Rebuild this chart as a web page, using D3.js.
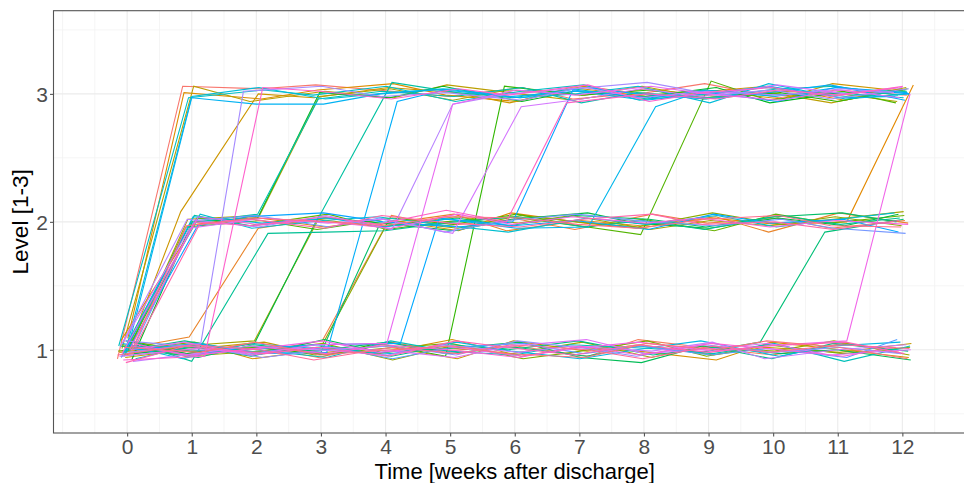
<!DOCTYPE html>
<html>
<head>
<meta charset="utf-8">
<script src="https://cdn.jsdelivr.net/npm/d3@7"></script>
<style>
    body { margin: 0; background: #fff; }
    svg { display: block; font-family: "Liberation Sans", Arial, sans-serif; }
</style>
</head>
<body>
<div id="chart"></div>
<script>
// weeks after discharge, one point per subject and week
var weeks = [0, 1, 2, 3, 4, 5, 6, 7, 8, 9, 10, 11, 12];
var xMinor = [-1, -0.5, 0.5, 1.5, 2.5, 3.5, 4.5, 5.5, 6.5, 7.5, 8.5, 9.5, 10.5, 11.5, 12.5, 13];
var levelTicks = [1, 2, 3];
var levelMinor = [0.5, 1.5, 2.5, 3.5];

// jittered level of every subject at every week
var subjectLevels = [
    [0.93, 3.06, 3.04, 3.07, 3.02, 2.98, 3.05, 2.96, 3.01, 3.08, 2.97, 3.03, 2.99],
    [1.04, 0.97, 1.02, 0.94, 1.06, 0.99, 1.03, 0.95, 1.08, 1.01, 0.96, 1.05, 0.98],
    [0.96, 1.03, 0.98, 1.07, 2.05, 1.97, 2.02, 1.94, 2.06, 1.99, 2.03, 1.95, 2.01],
    [1.02, 1.10, 1.95, 2.03, 1.98, 2.06, 1.93, 2.01, 1.97, 2.04, 1.92, 2.07, 1.99],
    [1.07, 1.98, 2.04, 1.96, 2.02, 1.93, 2.07, 1.99, 1.95, 2.03, 1.98, 2.00, 3.07],
    [1.09, 3.01, 2.96, 3.03, 3.08, 2.99, 2.94, 3.05, 2.98, 3.02, 3.06, 2.95, 3.04],
    [0.98, 1.05, 0.93, 1.01, 0.97, 1.08, 0.95, 1.02, 0.99, 0.92, 1.06, 1.00, 0.94],
    [1.05, 2.08, 3.00, 2.97, 3.05, 3.01, 2.93, 3.06, 2.99, 3.03, 2.96, 3.08, 3.02],
    [0.94, 1.01, 1.06, 0.97, 1.03, 0.93, 1.07, 0.99, 1.04, 0.96, 1.02, 0.98, 1.05],
    [1.01, 3.06, 2.94, 3.02, 2.97, 3.07, 3.00, 2.95, 3.04, 2.98, 3.01, 2.93, 3.05],
    [1.08, 2.02, 2.05, 2.98, 3.04, 2.95, 3.03, 2.99, 3.06, 2.97, 3.02, 3.00, 2.94],
    [0.97, 1.04, 1.07, 2.02, 1.96, 2.04, 1.99, 2.05, 1.94, 2.01, 1.97, 2.03, 2.08],
    [1.03, 0.95, 0.99, 1.05, 0.92, 1.02, 0.97, 1.06, 0.94, 1.03, 0.99, 1.07, 0.96],
    [0.99, 1.06, 0.96, 1.02, 2.01, 1.95, 2.05, 2.00, 1.96, 2.07, 1.98, 2.04, 1.97],
    [1.06, 0.99, 1.03, 0.96, 1.01, 1.05, 0.93, 0.98, 1.07, 0.95, 1.04, 0.97, 1.02],
    [0.95, 2.03, 1.97, 2.06, 1.94, 2.00, 2.04, 1.96, 2.02, 1.93, 2.06, 1.99, 2.05],
    [1.00, 1.96, 2.01, 1.94, 2.03, 1.98, 2.06, 1.97, 1.90, 3.10, 2.95, 3.02, 2.93],
    [1.04, 0.98, 1.02, 0.96, 1.05, 0.95, 3.06, 2.99, 3.03, 2.96, 3.01, 2.94, 3.04],
    [0.92, 2.00, 2.03, 3.01, 2.97, 3.06, 2.94, 3.02, 2.98, 3.05, 2.93, 3.00, 3.03],
    [1.07, 0.97, 1.05, 2.04, 1.98, 1.93, 2.02, 2.07, 1.99, 1.95, 2.03, 1.97, 2.06],
    [0.97, 1.02, 0.95, 1.08, 0.98, 1.01, 1.06, 0.94, 0.90, 1.03, 0.97, 1.00, 0.92],
    [1.03, 0.96, 1.01, 0.98, 1.96, 2.03, 1.97, 2.05, 2.02, 1.96, 2.04, 2.07, 2.00],
    [1.01, 0.94, 1.04, 0.99, 1.06, 0.97, 1.02, 0.95, 1.03, 0.98, 1.06, 1.92, 2.02],
    [0.99, 1.07, 0.97, 1.03, 0.95, 1.04, 1.00, 1.07, 0.96, 1.02, 0.93, 1.05, 0.99],
    [1.06, 0.91, 1.91, 1.92, 1.93, 1.99, 2.04, 1.96, 2.01, 1.94, 2.05, 1.98, 2.03],
    [0.98, 2.05, 1.97, 2.02, 3.09, 3.01, 2.97, 3.04, 2.96, 3.00, 3.05, 2.98, 3.02],
    [1.05, 1.99, 2.06, 2.96, 3.02, 2.98, 3.05, 2.93, 3.01, 2.97, 3.04, 3.06, 2.99],
    [0.93, 1.04, 1.00, 0.94, 1.07, 0.99, 0.96, 1.04, 1.01, 0.97, 1.05, 0.91, 1.03],
    [1.03, 2.97, 3.03, 2.99, 3.06, 2.94, 3.02, 3.07, 2.95, 3.03, 2.99, 3.01, 2.97],
    [1.08, 2.06, 1.95, 2.01, 2.04, 1.97, 1.92, 2.03, 1.98, 2.05, 1.96, 2.02, 2.07],
    [0.96, 2.98, 3.05, 2.96, 3.01, 3.04, 2.97, 3.00, 3.06, 2.93, 3.08, 2.96, 3.00],
    [1.02, 0.93, 1.05, 1.01, 0.97, 1.06, 0.99, 0.93, 1.02, 1.07, 0.95, 1.03, 1.06],
    [0.94, 2.04, 1.99, 2.03, 1.96, 2.02, 1.95, 1.96, 2.90, 3.03, 2.98, 3.05, 3.01],
    [0.97, 2.97, 2.92, 2.92, 3.00, 3.04, 2.98, 3.02, 2.95, 3.01, 3.06, 2.97, 2.98],
    [1.00, 1.05, 0.97, 0.98, 2.94, 3.03, 2.97, 3.05, 3.00, 2.96, 3.02, 3.07, 2.95],
    [1.05, 0.96, 1.01, 1.04, 1.05, 2.03, 1.97, 2.01, 1.94, 2.06, 1.99, 2.02, 1.92],
    [1.01, 1.97, 2.04, 2.07, 2.00, 1.96, 2.00, 3.03, 2.97, 3.02, 2.94, 3.05, 3.00],
    [0.95, 1.00, 0.98, 1.04, 0.93, 1.02, 1.05, 0.97, 1.03, 0.96, 1.01, 0.94, 1.08],
    [1.04, 2.01, 2.05, 1.96, 2.03, 1.92, 2.01, 2.06, 2.00, 1.97, 2.02, 1.95, 1.91],
    [1.07, 1.02, 0.94, 0.99, 1.03, 0.96, 1.07, 1.01, 0.95, 1.04, 0.98, 1.02, 0.97],
    [0.98, 1.05, 3.02, 3.06, 2.98, 3.01, 2.95, 3.04, 3.09, 2.99, 3.03, 2.96, 3.04],
    [1.02, 2.02, 1.96, 2.05, 1.94, 2.92, 3.00, 3.05, 2.97, 3.02, 2.99, 3.04, 3.01],
    [0.91, 0.97, 1.03, 1.00, 0.96, 1.04, 0.98, 1.03, 0.99, 1.06, 0.93, 1.00, 1.04],
    [1.06, 1.95, 2.03, 1.99, 2.02, 1.91, 2.90, 2.96, 3.04, 2.98, 3.07, 3.00, 3.05],
    [1.00, 1.06, 0.96, 1.02, 0.99, 0.94, 1.03, 1.08, 0.97, 1.01, 1.05, 0.96, 1.00],
    [0.95, 1.01, 0.97, 1.04, 1.05, 2.92, 3.03, 2.99, 3.06, 3.00, 2.95, 3.03, 2.97],
    [1.03, 0.96, 1.00, 1.07, 0.98, 1.03, 0.95, 1.02, 1.06, 0.99, 1.04, 1.07, 3.00],
    [0.97, 2.04, 1.98, 2.01, 1.95, 2.06, 1.98, 2.04, 1.99, 2.03, 1.96, 2.01, 1.98],
    [1.05, 0.95, 1.02, 0.97, 1.04, 1.00, 0.94, 1.03, 0.96, 1.05, 1.00, 0.95, 1.02],
    [0.92, 0.95, 3.05, 3.02, 2.96, 3.04, 2.99, 3.07, 2.94, 3.01, 3.05, 2.98, 3.06],
    [1.00, 2.00, 1.97, 2.04, 1.98, 2.09, 2.00, 2.93, 3.00, 2.96, 3.03, 2.99, 3.05],
    [0.90, 1.03, 0.97, 1.02, 0.95, 1.07, 1.01, 0.96, 1.04, 0.98, 1.03, 1.06, 0.97],
    [1.03, 1.98, 2.02, 1.95, 2.05, 1.99, 1.96, 2.02, 2.06, 1.98, 2.00, 1.94, 2.01],
    [0.96, 1.04, 1.00, 0.92, 1.02, 0.97, 1.04, 1.00, 0.93, 1.03, 0.98, 1.04, 1.01],
    [0.99, 1.97, 2.03, 2.00, 1.97, 2.04, 2.03, 1.98, 1.95, 2.02, 2.05, 1.97, 1.96],
    [1.02, 0.98, 1.06, 0.96, 1.00, 1.03, 0.97, 0.94, 1.05, 1.00, 1.07, 1.02, 0.93]
];

// horizontal jitter of every point, in hundredths of a week
var weekShift = [
    [-15, -14, 5, -8, 10, -3, 12, -10, 4, -6, 9, -2, 7],
    [3, -7, 11, -4, 8, -12, 2, 14, -9, 6, -1, 10, -5],
    [-6, 12, -3, 2, 9, -10, 5, -7, 13, -2, 8, -11, 4],
    [8, -4, 3, 10, -8, 6, -13, 3, -5, 11, -7, 2, 9],
    [-10, 5, -9, 7, -2, 13, -6, 9, -11, 4, 6, 14, 17],
    [1, -12, 8, -5, 12, -7, 4, -14, 7, 0, -9, 11, -3],
    [-12, 9, -6, 13, -10, 3, 10, -4, -8, 12, -3, 6, 10],
    [5, -17, 3, -11, 4, 9, -8, 6, 11, -5, 13, -8, 1],
    [-3, 7, 12, -8, -4, 11, -2, 12, -6, 8, -12, 3, 14],
    [-8, 3, -10, 6, 13, -5, 8, -9, 2, 14, -4, -10, 6],
    [10, -6, 5, -3, 7, 4, -11, 8, -3, -7, 10, 5, -8],
    [-1, 11, -3, -4, -9, 8, 6, -12, 10, 3, -6, 12, 2],
    [6, -10, 9, 3, 11, -8, -4, 5, 12, -11, 2, -6, 11],
    [-14, 4, -7, 0, 5, 12, 9, -3, -10, 6, 13, -4, -1],
    [12, -2, 10, -9, -5, 1, 13, -11, 5, -3, -10, 8, 12],
    [-5, 8, -12, 11, 2, -9, -7, 10, -2, 9, 4, -13, 3],
    [2, -9, 6, -6, 10, 5, 3, -1, -5, 4, -8, 9, -10],
    [-9, 12, 1, 8, -12, -7, -16, 4, 9, -9, 11, 0, 8],
    [7, 1, 2, -2, 6, -11, 11, -8, 3, 12, -5, -9, 5],
    [-2, -8, -3, -4, 12, 7, -5, 13, -12, 1, 7, 11, -6],
    [11, 6, -8, 5, -7, -3, 8, 2, -4, -10, 12, -2, 13],
    [-11, -3, 13, 0, -11, 10, -9, -6, 8, -4, 3, 7, -9],
    [4, 10, -5, -10, 3, -6, 1, 11, -8, -13, -20, -20, 2],
    [-7, -11, 7, 12, 9, 2, -12, -2, 14, 5, -2, -7, 9],
    [9, 0, 18, 6, -1, -13, 5, 9, -1, -6, 10, 4, -4],
    [-4, 4, -9, -5, 10, 11, -3, -10, 6, 10, -11, 13, 7],
    [0, -2, 2, -4, -6, 6, 12, 3, -11, -1, 8, -3, -7],
    [13, 8, -1, 9, 8, -4, -1, -13, 11, 7, 1, 10, 12],
    [-13, -5, 11, -12, 1, 8, 10, 7, -7, -8, -12, -5, 2],
    [6, 13, -7, 3, -13, -2, -10, 12, 4, 13, 5, 2, -12],
    [-4, 0, 4, 7, 7, -11, 7, -5, -9, 2, -7, 12, 10],
    [8, -14, -11, -7, 12, 10, -6, 1, 13, -12, 9, -8, -3],
    [-9, 2, 9, 10, -2, -5, 3, 14, 18, -5, 3, -1, 8],
    [-1, 0, 0, 4, -8, 6, -8, -3, 2, 11, -6, 6, -11],
    [10, 11, -4, 9, 18, -9, 9, 10, -10, -4, 12, -12, 4],
    [-7, -6, 8, -12, 23, -17, -2, -7, 7, 8, -3, 9, -6],
    [3, 9, -13, 4, -4, 12, -3, -10, 10, -11, 7, -4, 11],
    [-10, -9, 6, -6, 11, 3, 13, 6, -3, 3, -9, 14, -8],
    [12, 4, -2, 13, -9, -8, -11, -4, 9, 9, 13, -6, 5],
    [-3, 14, 10, -10, 6, 9, 4, 12, -12, -6, 0, 3, -2],
    [2, 14, -20, 1, -7, -6, 11, -8, 5, 12, -4, -10, 10],
    [-11, -7, 3, 8, 10, 4, -9, 9, -7, -2, 11, 7, -13],
    [9, 6, -10, -3, 3, -12, 6, -12, 12, 6, -13, -1, 6],
    [-6, -3, 12, 11, -5, 4, 10, 4, -4, -9, 6, 11, 0],
    [5, -12, -6, 6, 13, 7, -7, 11, 1, 10, -8, -12, 13],
    [-12, 7, 5, -9, 2, 4, 2, -6, 11, -3, 10, 4, -4],
    [7, -1, -12, 2, -10, -10, 12, 8, -9, 7, 14, 14, 12],
    [-8, 10, 1, -13, 8, 11, -4, -11, 3, -12, -5, -3, 9],
    [11, -4, 9, 10, -3, -2, 7, 0, -6, 4, 12, 8, -10],
    [-6, 20, 10, -2, 9, 13, -10, 13, 8, -7, -2, -9, 1],
    [4, 5, -4, 7, -12, -6, -13, -20, 6, 11, 8, 2, -7],
    [-2, -10, 13, -7, 4, 9, 3, -9, -11, 1, -11, 12, 3],
    [13, 12, -8, 5, -6, -1, 8, 5, 12, -10, 3, -7, -5],
    [-15, 1, 6, -11, 11, 12, -5, 12, -2, 8, -6, 5, 11],
    [7, -8, -5, 12, -1, -9, 10, -3, -8, -4, 9, -11, -2],
    [-5, 11, -1, -2, 7, 5, -12, 9, 4, 13, -10, 1, 8]
];

// ggplot-like hue palette: polar LUV with l = 65, c = 100
function huePalette(n) {
    var cols = [];
    var Xn = 95.047, Yn = 100, Zn = 108.883;
    var un = 4 * Xn / (Xn + 15 * Yn + 3 * Zn);
    var vn = 9 * Yn / (Xn + 15 * Yn + 3 * Zn);
    var L = 65, C = 100;
    function gam(c) {
        c = c <= 0.0031308 ? 12.92 * c : 1.055 * Math.pow(c, 1 / 2.4) - 0.055;
        return Math.round(Math.max(0, Math.min(1, c)) * 255);
    }
    for (var i = 0; i < n; i++) {
        var h = (15 + i * 360 / n) * Math.PI / 180;
        var u = C * Math.cos(h), v = C * Math.sin(h);
        var Y = Yn * Math.pow((L + 16) / 116, 3);
        var up = u / (13 * L) + un, vp = v / (13 * L) + vn;
        var X = Y * 9 * up / (4 * vp);
        var Z = Y * (12 - 3 * up - 20 * vp) / (4 * vp);
        X /= 100; Y /= 100; Z /= 100;
        var r = 3.2404542 * X - 1.5371385 * Y - 0.4985314 * Z;
        var g = -0.9692660 * X + 1.8760108 * Y + 0.0415560 * Z;
        var b = 0.0556434 * X - 0.2040259 * Y + 1.0572252 * Z;
        cols.push(d3.rgb(gam(r), gam(g), gam(b)).formatHex());
    }
    return cols;
}

function drawChart(opts) {
    var svg = d3.select("#chart")
        .append("svg")
        .attr("width", opts.width)
        .attr("height", opts.height);

    var x = d3.scaleLinear().domain([-1.14, 13.14]).range([opts.left, opts.right]);
    var y = d3.scaleLinear().domain([0.35, 3.65]).range([opts.bottom, opts.top]);

    var colours = huePalette(subjectLevels.length);

    // grid
    var grid = svg.append("g");
    grid.selectAll(".xminor").data(xMinor).enter().append("line")
        .attr("x1", function (d) { return x(d); }).attr("x2", function (d) { return x(d); })
        .attr("y1", opts.top).attr("y2", opts.bottom)
        .attr("stroke", "#f2f2f2").attr("stroke-width", 0.8);
    grid.selectAll(".yminor").data(levelMinor).enter().append("line")
        .attr("x1", opts.left).attr("x2", opts.right)
        .attr("y1", function (d) { return y(d); }).attr("y2", function (d) { return y(d); })
        .attr("stroke", "#f2f2f2").attr("stroke-width", 0.8);
    grid.selectAll(".xmajor").data(weeks).enter().append("line")
        .attr("x1", function (d) { return x(d); }).attr("x2", function (d) { return x(d); })
        .attr("y1", opts.top).attr("y2", opts.bottom)
        .attr("stroke", "#ebebeb").attr("stroke-width", 1.1);
    grid.selectAll(".ymajor").data(levelTicks).enter().append("line")
        .attr("x1", opts.left).attr("x2", opts.right)
        .attr("y1", function (d) { return y(d); }).attr("y2", function (d) { return y(d); })
        .attr("stroke", "#ebebeb").attr("stroke-width", 1.1);

    // one line per subject
    var line = d3.line()
        .x(function (d, i) { return x(weeks[i] + d.shift / 100); })
        .y(function (d) { return y(d.level); });

    svg.append("g").selectAll("path")
        .data(subjectLevels.map(function (lv, s) {
            return lv.map(function (v, i) { return { level: v, shift: weekShift[s][i] }; });
        }))
        .enter().append("path")
        .attr("fill", "none")
        .attr("stroke", function (d, i) { return colours[i]; })
        .attr("stroke-width", 1.1)
        .attr("d", line);

    // panel border
    svg.append("rect")
        .attr("x", opts.left).attr("y", opts.top)
        .attr("width", opts.right - opts.left).attr("height", opts.bottom - opts.top)
        .attr("fill", "none").attr("stroke", "#555").attr("stroke-width", 1.1);

    // axes
    var xAxis = d3.axisBottom(x).tickValues(weeks).tickFormat(d3.format("d")).tickSize(3.5);
    var gx = svg.append("g").attr("transform", "translate(0," + opts.bottom + ")").call(xAxis);
    var yAxis = d3.axisLeft(y).tickValues(levelTicks).tickFormat(d3.format("d")).tickSize(3.5);
    var gy = svg.append("g").attr("transform", "translate(" + opts.left + ",0)").call(yAxis);

    [gx, gy].forEach(function (g) {
        g.select(".domain").remove();
        g.selectAll(".tick line").attr("stroke", "#555").attr("stroke-width", 1.1);
        g.selectAll(".tick text")
            .attr("fill", "#4d4d4d")
            .style("font-size", "21px")
            .style("font-family", "'Liberation Sans', Arial, sans-serif");
    });
    // baseline of the week labels sits ~21px under the panel
    gx.selectAll(".tick text").attr("dy", null).attr("y", 21.3);
    gy.selectAll(".tick text").attr("dy", "0.36em").attr("x", -5.5);

    // titles
    svg.append("text")
        .attr("x", (opts.left + opts.right) / 2)
        .attr("y", 478.7)
        .attr("text-anchor", "middle")
        .style("font-size", "22px")
        .text("Time [weeks after discharge]");

    svg.append("text")
        .attr("transform", "translate(28," + (opts.top + opts.bottom) / 2 + ") rotate(-90)")
        .attr("text-anchor", "middle")
        .style("font-size", "22.6px")
        .text("Level [1-3]");
}

var chartOptions = {
    width: 964,
    height: 483,
    left: 53.5,
    right: 976,  // panel runs past the right edge of the picture
    top: 10.7,
    bottom: 433
};

drawChart(chartOptions);
</script>
</body>
</html>
